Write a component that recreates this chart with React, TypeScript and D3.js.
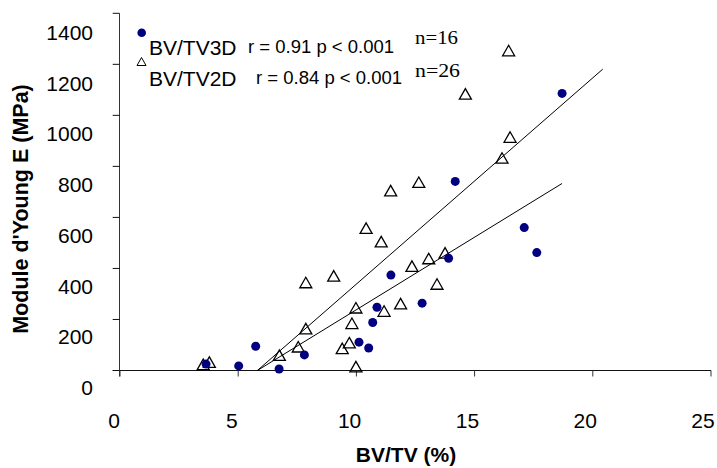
import React from "react";
import * as d3 from "d3";

// ---- data ----
const xTicks = [0, 5, 10, 15, 20, 25];
const yTicks = [0, 200, 400, 600, 800, 1000, 1200, 1400];

// BV/TV 3D (filled circles)
const bv3dX = [3.64, 5.02, 5.74, 6.73, 7.8, 10.11, 10.52, 10.69, 10.87, 11.46, 12.78, 13.9, 14.18, 17.1, 17.63, 18.7];
const bv3dY = [25, 18, 95, 6, 61, 111, 88, 188, 248, 374, 264, 440, 741, 560, 462, 1086];

// BV/TV 2D (open triangles)
const bv2dX = [3.52, 3.78, 6.74, 7.54, 7.86, 7.86, 9.04, 9.4, 9.7, 9.81, 9.98, 9.98, 10.41, 11.05, 11.17, 11.45, 11.87, 12.35, 12.64, 13.06, 13.41, 13.75, 16.44, 14.61, 16.5, 16.16];
const bv2dY = [24, 33, 60, 93, 164, 345, 371, 87, 109, 185, 246, 15, 558, 505, 233, 705, 262, 409, 738, 439, 339, 461, 1254, 1084, 915, 833];

// regression lines (endpoints)
const trendLowX = [5.81, 18.7];
const trendLowY = [0, 733];
const trendHighX = [5.81, 20.42];
const trendHighY = [0, 1181];

const legendNames = ["BV/TV3D", "BV/TV2D"];
const legendStats = ["r = 0.91 p < 0.001", "r = 0.84 p < 0.001"];
const legendN = ["n=16", "n=26"];

const xTitle = "BV/TV (%)";
const yTitle = "Module d'Young E (MPa)";

export default function App() {
  const W = 717;
  const H = 468;
  const x = d3.scaleLinear().domain([0, 25]).range([120, 711]);
  const y = d3.scaleLinear().domain([0, 1400]).range([370.5, 13.3]);
  // tick labels in the reference are displaced from their tick marks
  const xLab = d3.scaleLinear().domain([0, 25]).range([114, 703]);
  const yLab = d3.scaleLinear().domain([0, 1400]).range([395, 40]);

  const line = d3
    .line<[number, number]>()
    .x((d) => x(d[0]))
    .y((d) => y(d[1]));

  const triPath = (w: number, h: number) =>
    `M0,${-h / 2}L${w / 2},${h / 2}L${-w / 2},${h / 2}Z`;

  const font = "'Liberation Sans', Arial, sans-serif";
  const serif = "'Liberation Serif', 'Times New Roman', serif";

  return (
    <svg
      width={W}
      height={H}
      style={{ position: "absolute", left: 0, top: 0, background: "#fff" }}
    >
      {/* axes */}
      <line x1={112.7} x2={711} y1={370.5} y2={370.5} stroke="#111" strokeWidth={1} />
      <line x1={119.5} x2={119.5} y1={13.3} y2={376.5} stroke="#333" strokeWidth={1} />
      {yTicks.map((t) => (
        <g key={"yt" + t}>
          <line x1={112.7} x2={119.5} y1={y(t)} y2={y(t)} stroke="#111" strokeWidth={1} />
          <text x={93} y={yLab(t)} textAnchor="end" fontFamily={font} fontSize={21} fill="#000">
            {t}
          </text>
        </g>
      ))}
      {xTicks.map((t) => (
        <g key={"xt" + t}>
          <line x1={x(t)} x2={x(t)} y1={370.5} y2={376.5} stroke="#333" strokeWidth={1} />
          <text x={xLab(t)} y={427.5} textAnchor="middle" fontFamily={font} fontSize={21} fill="#000">
            {t}
          </text>
        </g>
      ))}
      <text x={406} y={462} textAnchor="middle" fontFamily={font} fontSize={21} fontWeight="bold">
        {xTitle}
      </text>
      <text
        transform="translate(27.5,209) rotate(-90)"
        textAnchor="middle"
        fontFamily={font}
        fontSize={21.5}
        fontWeight="bold"
      >
        {yTitle}
      </text>

      {/* trend lines */}
      <path
        d={line(trendLowX.map((v, i) => [v, trendLowY[i]]) as any) || ""}
        stroke="#000"
        strokeWidth={1}
        fill="none"
      />
      <path
        d={line(trendHighX.map((v, i) => [v, trendHighY[i]]) as any) || ""}
        stroke="#000"
        strokeWidth={1}
        fill="none"
      />

      {/* 2D triangles */}
      {bv2dX.map((v, i) => (
        <path
          key={"t" + i}
          d={triPath(12, 10.5)}
          transform={`translate(${x(v)},${y(bv2dY[i])})`}
          fill="none"
          stroke="#000"
          strokeWidth={1.3}
        />
      ))}
      {/* 3D circles */}
      {bv3dX.map((v, i) => (
        <circle key={"c" + i} cx={x(v)} cy={y(bv3dY[i])} r={4.5} fill="#000080" />
      ))}

      {/* legend */}
      <circle cx={141.7} cy={32.7} r={4.3} fill="#000080" />
      <path d={triPath(9, 8)} transform="translate(141.5,61.5)" fill="none" stroke="#000" strokeWidth={1} />
      <text x={149} y={55} fontFamily={font} fontSize={21}>{legendNames[0]}</text>
      <text x={149} y={86} fontFamily={font} fontSize={21}>{legendNames[1]}</text>
      <text x={248} y={52.5} fontFamily={font} fontSize={18.5}>{legendStats[0]}</text>
      <text x={256} y={83.5} fontFamily={font} fontSize={18.5}>{legendStats[1]}</text>
      <text x={415} y={44} fontFamily={serif} fontSize={19} textLength={43} lengthAdjust="spacingAndGlyphs">{legendN[0]}</text>
      <text x={415} y={77} fontFamily={serif} fontSize={19} textLength={45} lengthAdjust="spacingAndGlyphs">{legendN[1]}</text>
    </svg>
  );
}
